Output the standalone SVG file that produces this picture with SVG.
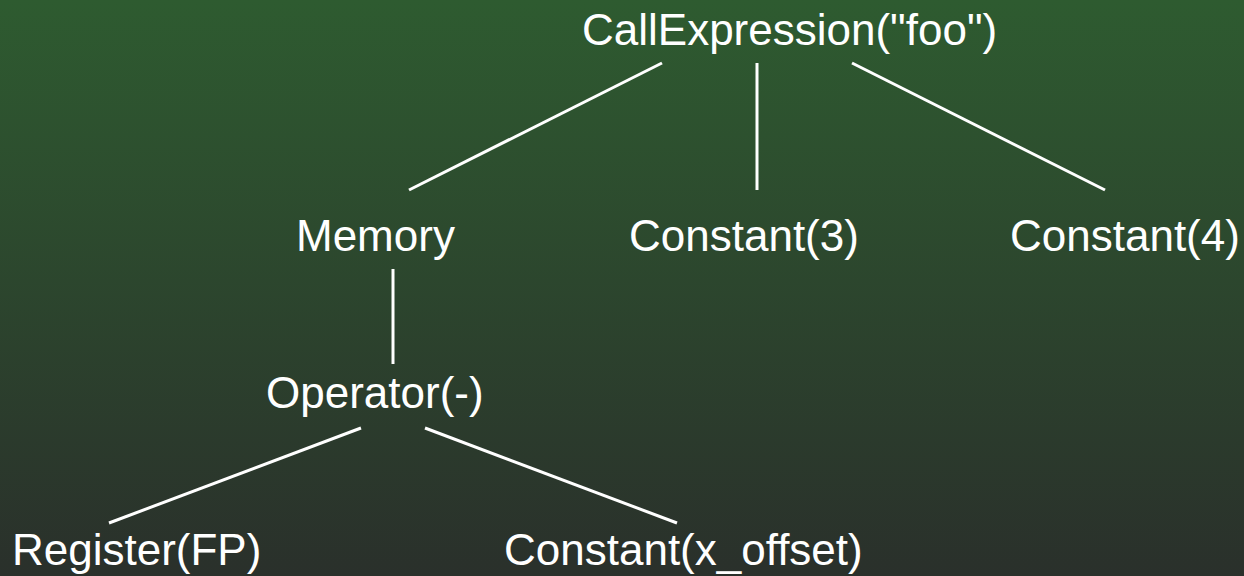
<svg xmlns="http://www.w3.org/2000/svg" width="1244" height="576" viewBox="0 0 1244 576">
<defs>
<linearGradient id="bg" x1="0" y1="0" x2="0" y2="1">
<stop offset="0" stop-color="#2e5b30"/>
<stop offset="1" stop-color="#2a302b"/>
</linearGradient>
<style>
.t{font-family:"Liberation Sans",Arial,sans-serif;font-size:44px;fill:#ffffff}
.c line{stroke:#ffffff;stroke-width:3;stroke-linecap:butt}
</style>
</defs>
<rect x="0" y="0" width="1244" height="576" fill="url(#bg)"/>
<g class="c" id="connectors">
<line x1="662" y1="63" x2="409" y2="190"/>
<line x1="757" y1="63" x2="757" y2="190"/>
<line x1="852" y1="63" x2="1105" y2="190"/>
<line x1="393" y1="269" x2="393" y2="364"/>
<line x1="361" y1="428" x2="109" y2="523"/>
<line x1="425" y1="428" x2="677" y2="523"/>
</g>
<g id="n-call"><text class="t" x="582" y="45">CallExpression("foo")</text></g>
<g id="n-memory"><text class="t" x="296" y="251">Memory</text></g>
<g id="n-const3"><text class="t" x="629" y="251">Constant(3)</text></g>
<g id="n-const4"><text class="t" x="1010" y="251">Constant(4)</text></g>
<g id="n-operator"><text class="t" x="266" y="408">Operator(-)</text></g>
<g id="n-register"><text class="t" x="12" y="565">Register(FP)</text></g>
<g id="n-constx"><text class="t" x="504" y="565">Constant(x_offset)</text></g>
</svg>
